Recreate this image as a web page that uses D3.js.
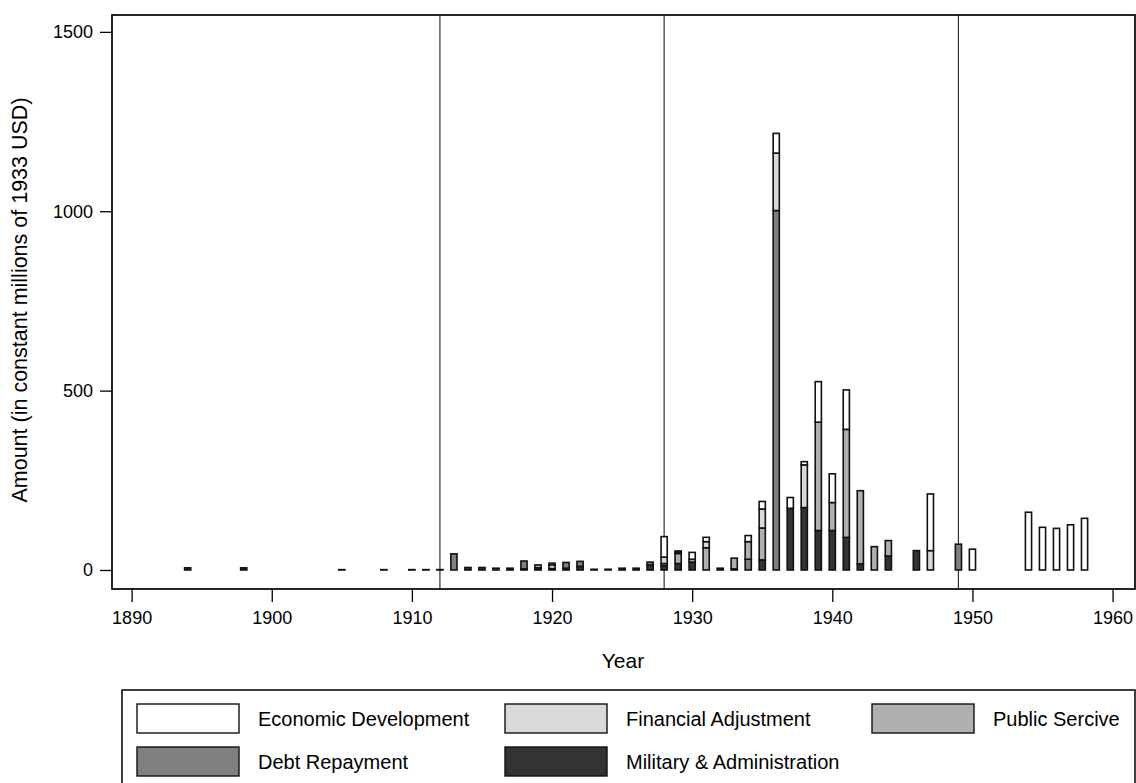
<!DOCTYPE html>
<html>
<head>
<meta charset="utf-8">
<script src="https://cdn.jsdelivr.net/npm/d3@7"></script>
<style>
  html, body { margin: 0; padding: 0; background: #fff; }
  svg { display: block; }
  text { font-family: "Liberation Sans", Arial, sans-serif; fill: #000; }
</style>
</head>
<body>
<svg id="chart" width="1136" height="783"></svg>
<script>
// ---- Data ----
const years     = [1894,1898,1905,1908,1910,1911,1912,1913,1914,1915,1916,1917,1918,1919,1920,1921,1922,1923,1924,1925,1926,1927,1928,1929,1930,1931,1932,1933,1934,1935,1936,1937,1938,1939,1940,1941,1942,1943,1944,1946,1947,1949,1950,1954,1955,1956,1957,1958];
const military  = [6,6,1,0,0,1,1,0,7,7,0,5,3,6,4,5,10,0,0,5,5,14,12,18,22,0,5,3,0,28,0,172,174,110,110,91,17,0,39,54,0,0,0,0,0,0,0,0];
const debt      = [0,0,0,1,1,0,0,45,0,0,5,0,22,0,0,16,14,2,2,0,0,8,0,0,0,0,0,0,30,0,1002,0,0,0,0,0,0,0,0,0,0,72,0,0,0,0,0,0];
const publicSvc = [0,0,0,0,0,0,0,0,0,0,0,0,0,8,0,0,0,0,0,0,0,0,6,28,8,62,0,30,49,89,0,0,0,302,78,301,204,65,43,0,0,0,0,0,0,0,0,0];
const financial = [0,0,0,0,0,0,0,0,0,0,0,0,0,0,10,0,0,0,0,0,0,0,18,4,0,17,0,0,0,53,160,0,119,0,0,0,0,0,0,0,54,0,0,0,0,0,0,0];
const economic  = [0,0,0,0,0,0,0,0,0,0,0,0,0,0,5,0,0,0,0,0,0,0,57,3,19,12,0,0,17,21,55,30,9,113,80,110,0,0,0,0,158,0,58,161,119,116,126,144];

const seriesNames = ["Military & Administration","Debt Repayment","Public Sercive","Financial Adjustment","Economic Development"];
const seriesKeys  = ["military","debt","publicSvc","financial","economic"];
const seriesColors = ["#333333","#808080","#b0b0b0","#d9d9d9","#ffffff"];
const legendOrder = ["economic","financial","publicSvc","debt","military"];

const yTicks = [0,500,1000,1500];
const xTicks = [1890,1900,1910,1920,1930,1940,1950,1960];
const refLines = [1912,1928,1949];

// ---- Build table ----
const table = years.map((yr,i)=>({year:yr, military:military[i], debt:debt[i], publicSvc:publicSvc[i], financial:financial[i], economic:economic[i]}));
const stacked = d3.stack().keys(seriesKeys)(table);

const svg = d3.select("#chart");
svg.append("rect").attr("width",1136).attr("height",783).attr("fill","#fff");

const L = 112, R = 1135, T = 15, B = 589;
const x = d3.scaleLinear().domain([1888.6, 1961.6]).range([L, R]);
const y = d3.scaleLinear().domain([-53, 1547]).range([B, T]);
const color = d3.scaleOrdinal().domain(seriesKeys).range(seriesColors);
const nameOf = d3.scaleOrdinal().domain(seriesKeys).range(seriesNames);

// reference vertical lines
svg.append("g").selectAll("line").data(refLines).join("line")
  .attr("x1", d=>x(d)).attr("x2", d=>x(d))
  .attr("y1", T).attr("y2", B)
  .attr("stroke","#333").attr("stroke-width",1.2);

// bars
const bw = 0.44;
svg.append("g").selectAll("g").data(stacked).join("g")
  .attr("fill", d=>color(d.key))
  .selectAll("rect")
  .data(d=>d.filter(s=>s[1]-s[0]>0))
  .join("rect")
  .attr("x", d=>x(d.data.year-bw/2))
  .attr("width", d=>x(d.data.year+bw/2)-x(d.data.year-bw/2))
  .attr("y", d=>y(d[1]))
  .attr("height", d=>Math.max(0.01, y(d[0])-y(d[1])))
  .attr("stroke","#111").attr("stroke-width",1.6);

// frame
svg.append("rect").attr("x",L).attr("y",T).attr("width",R-L).attr("height",B-T)
  .attr("fill","none").attr("stroke","#000").attr("stroke-width",1.7);

// axes
const yAxis = svg.append("g").attr("transform",`translate(${L},0)`)
  .call(d3.axisLeft(y).tickValues(yTicks).tickSize(12).tickPadding(7).tickFormat(d3.format("d")));
yAxis.select(".domain").remove();
yAxis.selectAll("line").attr("stroke","#000").attr("stroke-width",1.3);
yAxis.selectAll("text").attr("font-size",18).attr("font-family","Liberation Sans, Arial, sans-serif");

const xAxis = svg.append("g").attr("transform",`translate(0,${B})`)
  .call(d3.axisBottom(x).tickValues(xTicks).tickSize(13).tickPadding(9).tickFormat(d3.format("d")));
xAxis.select(".domain").remove();
xAxis.selectAll("line").attr("stroke","#000").attr("stroke-width",1.3);
xAxis.selectAll("text").attr("font-size",18).attr("font-family","Liberation Sans, Arial, sans-serif");

// axis titles
svg.append("text").attr("x", 623).attr("y", 668).attr("text-anchor","middle")
  .attr("font-size",21).text("Year");
svg.append("text").attr("transform","translate(27,300) rotate(-90)").attr("text-anchor","middle")
  .attr("font-size",21.5).text("Amount (in constant millions of 1933 USD)");

// legend
const lg = svg.append("g");
lg.append("rect").attr("x",122).attr("y",690).attr("width",1013).attr("height",110)
  .attr("fill","#fff").attr("stroke","#000").attr("stroke-width",1.5);
const colX = [137, 505, 872];
const rowY = [704, 747];
legendOrder.forEach((k,i)=>{
  const cx = colX[i%3], ry = rowY[Math.floor(i/3)];
  lg.append("rect").attr("x",cx).attr("y",ry).attr("width",102).attr("height",29)
    .attr("fill",color(k)).attr("stroke","#111").attr("stroke-width",1.4);
  lg.append("text").attr("x",cx+121).attr("y",ry+15).attr("dy","0.35em")
    .attr("font-size",20).text(nameOf(k));
});
</script>
</body>
</html>
